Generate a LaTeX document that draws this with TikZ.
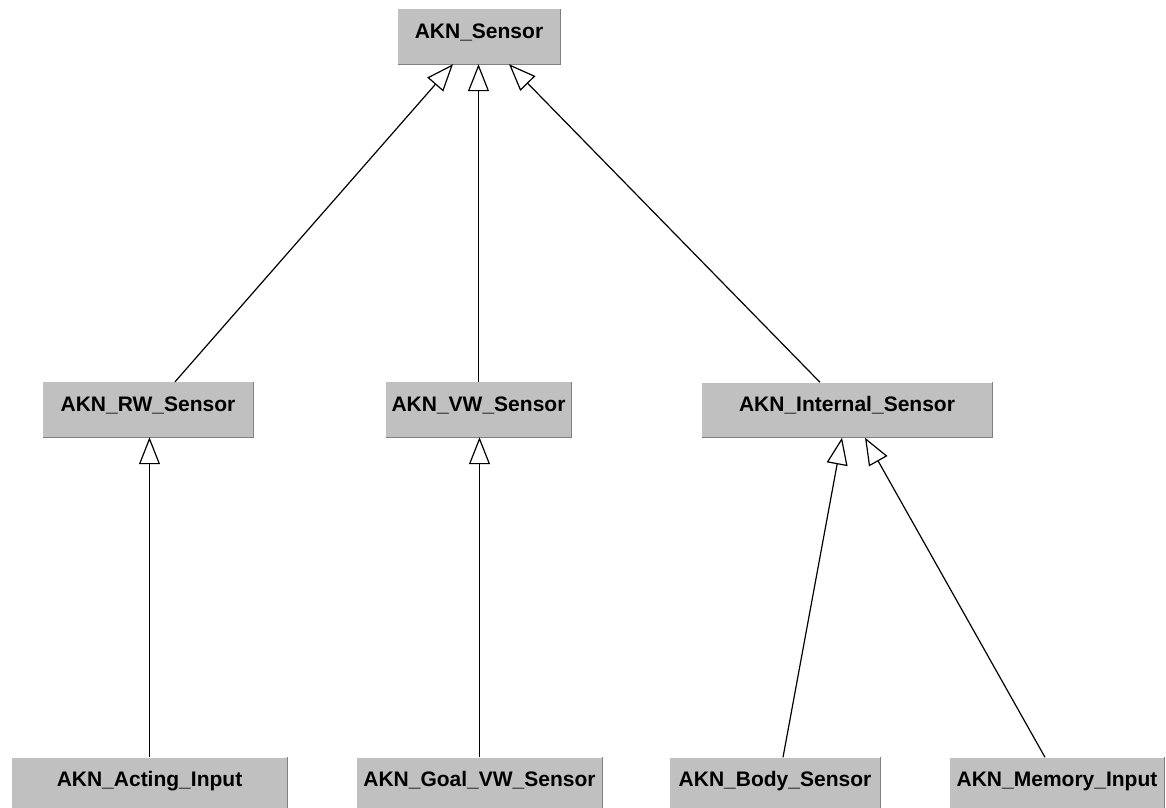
\documentclass[tikz,border=0pt]{standalone}
\usepackage{fontspec}
\setmainfont{Liberation Sans}
\usetikzlibrary{arrows.meta}
\definecolor{boxgray}{HTML}{C0C0C0}
\definecolor{edgegray}{HTML}{808080}
\tikzset{sbox/.style={
    rectangle,
    fill=boxgray,
    inner sep=0pt,
    font=\fontsize{21}{25}\selectfont\bfseries,
    text height=15pt,
    text depth=12pt,
    minimum height=55pt
  },
  inh/.style={line width=1.2pt,-{Triangle[open,length=27pt,width=21pt,line width=1.2pt]}},
}

\begin{document}
\begin{tikzpicture}[x=1pt,y=-1pt]
  \useasboundingbox (0,0) rectangle (1166,807);
  \clip (0,0) rectangle (1166,807);
  \node [sbox,minimum width=162pt] (sensor) at (479,36.5) {AKN\_Sensor};
  \node [sbox,minimum width=210pt] (rw) at (148,409.5) {AKN\_RW\_Sensor};
  \node [sbox,minimum width=185pt] (vw) at (478.5,409.5) {AKN\_VW\_Sensor};
  \node [sbox,minimum width=290pt] (internal) at (847,410) {AKN\_Internal\_Sensor};
  \node [sbox,minimum width=275pt] (acting) at (149.5,785) {AKN\_Acting\_Input};
  \node [sbox,minimum width=245pt] (goal) at (479.5,785) {AKN\_Goal\_VW\_Sensor};
  \node [sbox,minimum width=210pt] (body) at (775,785) {AKN\_Body\_Sensor};
  \node [sbox,minimum width=214pt] (memory) at (1057,785) {AKN\_Memory\_Input};
  % darker right and bottom edges
  \foreach \n in {sensor,rw,vw,internal,acting,goal,body,memory}
    \draw [edgegray,line width=1pt] (\n.north east) -- (\n.south east) -- (\n.south west);
  \draw [inh] ([xshift=27pt]rw.north) -- ([xshift=-26pt]sensor.south);
  \draw [inh] (vw.north) -- (vw.north |- sensor.south);
  \draw [inh] ([xshift=-27pt]internal.north) -- ([xshift=30pt]sensor.south);
  \draw [inh] (acting.north) -- (acting.north |- rw.south);
  \draw [inh] (goal.north) -- (goal.north |- vw.south);
  \draw [inh] ([xshift=8pt]body.north) -- ([xshift=-5pt]internal.south);
  \draw [inh] ([xshift=-12pt]memory.north) -- ([xshift=18pt]internal.south);
\end{tikzpicture}
\end{document}
